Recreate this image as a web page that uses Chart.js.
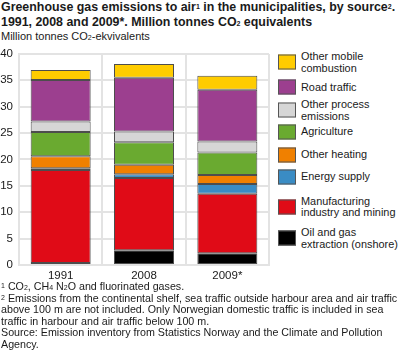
<!DOCTYPE html>
<html>
<head>
<meta charset="utf-8">
<script src="https://cdn.jsdelivr.net/npm/chart.js@4.4.1/dist/chart.umd.min.js"></script>
<style>
  html, body { margin:0; padding:0; background:#fff; }
  body { width:400px; height:355px; position:relative; overflow:hidden; font-family:"Liberation Sans", Arial, sans-serif; color:#1a1a1a; }
  #title { position:absolute; left:1px; top:0px; font-weight:bold; font-size:12.4px; line-height:15px; white-space:nowrap; }
  #subtitle { position:absolute; left:1px; top:30px; font-size:11px; line-height:13px; white-space:nowrap; }
  sup.s { font-size:7px; vertical-align:top; position:relative; top:-1px; }
  sub.s { font-size:7px; vertical-align:bottom; position:relative; top:1px; }
  #chartwrap { position:absolute; left:0; top:41px; width:272px; height:240px; }
  #legend { position:absolute; left:278px; top:0; width:122px; height:260px; }
  .li { position:absolute; left:0; display:flex; align-items:center; transform:translateY(-50%); }
  .box { width:18px; height:15px; box-sizing:border-box; border:1px solid #555; flex:none; margin-right:5px; }
  .lt { font-size:10.9px; line-height:11.5px; }
  #notes { position:absolute; left:1px; top:281px; font-size:10.7px; line-height:11.6px; white-space:nowrap; }
</style>
</head>
<body>
<div id="title">Greenhouse gas emissions to air<sup class="s">1</sup> in the municipalities, by source<sup class="s">2</sup>.<br>1991, 2008 and 2009*. Million tonnes CO<sub class="s">2</sub> equivalents</div>
<div id="subtitle">Million tonnes CO<sub class="s">2</sub>-ekvivalents</div>
<div id="chartwrap"><canvas id="c"></canvas></div>
<div id="legend"></div>
<div id="notes"><sup class="s">1</sup> CO<sub class="s">2</sub>, CH<sub class="s">4</sub> N<sub class="s">2</sub>O and fluorinated gases.<br><sup class="s">2</sup> Emissions from the continental shelf, sea traffic outside harbour area and air traffic<br>above 100 m are not included. Only Norwegian domestic traffic is included in sea<br>traffic in harbour and air traffic below 100 m.<br>Source: Emission inventory from Statistics Norway and the Climate and Pollution<br>Agency.</div>
<script>
// ---- data ----
const categories = ["1991", "2008", "2009*"];
const oilGas        = [0.4, 2.8, 2.25];
const manufacturing = [17.6, 13.7, 11.25];
const energySupply  = [0.35, 0.7, 1.85];
const otherHeating  = [2.25, 1.8, 1.7];
const agriculture   = [4.6, 4.25, 4.25];
const otherProcess  = [2.0, 2.05, 2.1];
const roadTraffic   = [7.85, 10.2, 9.8];
const otherMobile   = [1.9, 2.6, 2.65];
const seriesNames = ["Oil and gas extraction (onshore)", "Manufacturing industry and mining", "Energy supply",
  "Other heating", "Agriculture", "Other process emissions", "Road traffic", "Other mobile combustion"];
const yTicks = [0, 5, 10, 15, 20, 25, 30, 35, 40];

// ---- styles ----
const colors = ["#000000", "#e00b17", "#3a8cc4", "#f08000", "#6aaa30", "#d6d6d6", "#9c3f8f", "#ffcc00"];
const legendLabels = ["Oil and gas<br>extraction (onshore)", "Manufacturing<br>industry and mining", "Energy supply",
  "Other heating", "Agriculture", "Other process<br>emissions", "Road traffic", "Other mobile<br>combustion"];
const legendCentersY = [238, 206.5, 176.5, 154.5, 131.5, 110, 87, 62];

const seriesValues = [oilGas, manufacturing, energySupply, otherHeating, agriculture, otherProcess, roadTraffic, otherMobile];
const datasets = seriesValues.map((v, i) => ({
  label: seriesNames[i], data: v, backgroundColor: colors[i],
  borderColor: "#4d4d4d", borderWidth: 1, borderSkipped: false,
  barPercentage: 0.72, categoryPercentage: 1.0
}));

new Chart(document.getElementById("c"), {
  type: "bar",
  data: { labels: categories, datasets },
  options: {
    responsive: true, maintainAspectRatio: false, animation: false,
    layout: { padding: { top: 6, right: 3, left: 0, bottom: 0 } },
    plugins: { legend: { display: false }, tooltip: { enabled: false } },
    scales: {
      x: {
        stacked: true,
        grid: { color: "#e3e3e3", lineWidth: 2, drawTicks: false, offset: true },
        border: { display: true, color: "#e3e3e3", width: 2 },
        ticks: { color: "#1a1a1a", font: { family: "Liberation Sans", size: 11.5 }, padding: 4 },
        afterFit: s => { s.height = 16; }
      },
      y: {
        stacked: true, min: 0, max: 40,
        afterBuildTicks: s => { s.ticks = yTicks.map(v => ({ value: v })); },
        grid: { color: "#e3e3e3", lineWidth: 2, drawTicks: false },
        border: { display: true, color: "#e3e3e3", width: 2 },
        ticks: { color: "#1a1a1a", font: { family: "Liberation Sans", size: 11.5 }, padding: 6 },
        afterFit: s => { s.width = 19; }
      }
    }
  }
});

// legend
const lg = document.getElementById("legend");
for (let i = seriesNames.length - 1; i >= 0; i--) {
  const d = document.createElement("div");
  d.className = "li";
  d.style.top = legendCentersY[i] + "px";
  d.innerHTML = '<span class="box" style="background:' + colors[i] + '"></span><span class="lt">' + legendLabels[i] + '</span>';
  lg.appendChild(d);
}
</script>
</body>
</html>
